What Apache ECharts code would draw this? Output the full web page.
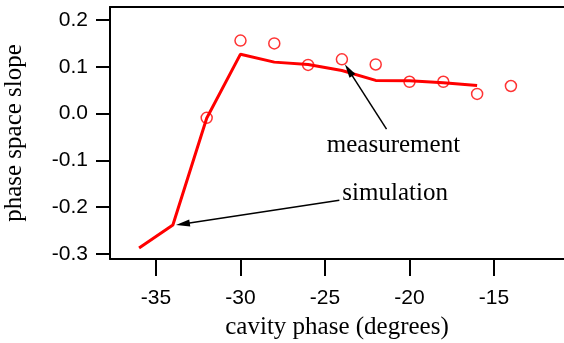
<!DOCTYPE html>
<html>
<head>
<meta charset="utf-8">
<script src="https://cdn.jsdelivr.net/npm/echarts@6/dist/echarts.min.js"></script>
<style>
  html, body { margin: 0; padding: 0; background: #fff; }
  #chart { width: 564px; height: 343px; }
  #info { position: absolute; left: 0; top: 0; font: 9px monospace; white-space: pre; visibility: hidden; }
</style>
</head>
<body>
<div id="chart"></div>
<div id="info"></div>
<script>
// cavity phase (degrees) vs phase space slope
const simPhase = [-36, -34, -32, -30, -28, -26, -24, -22, -20, -18, -16]
const simSlope = [-0.287, -0.238, -0.010, 0.127, 0.110, 0.105, 0.092, 0.071, 0.070, 0.066, 0.060]

const measPhase = [-32, -30, -28, -26, -24, -22, -20, -18, -16, -14]
const measSlope = [-0.009, 0.156, 0.150, 0.104, 0.116, 0.105, 0.068, 0.068, 0.042, 0.059]

const xTicks = [-35, -30, -25, -20, -15]
const yTicks = [-0.3, -0.2, -0.1, 0.0, 0.1, 0.2]

// annotations: [label, textAt, arrowFrom, arrowTo]
const notes = [
  ['measurement', [-20.95, -0.067], [-21.36, -0.033], [-23.60, 0.093]],
  ['simulation', [-20.85, -0.170], [-24.15, -0.185], [-33.41, -0.236]],
]

const xMin = -37.72, xMax = -10.86
const yMin = -0.3107, yMax = 0.2278

const sans = 'Liberation Sans'
const serif = 'Liberation Serif'
const red = '#ff0000'

const chart = echarts.init(document.getElementById('chart'))

const pair = (xs, ys) => xs.map((x, i) => [x, ys[i]])

chart.setOption({
  animation: false,
  grid: { left: 110, right: 0, top: 7, bottom: 84, outerBoundsMode: 'none' },
  xAxis: [
    {
      type: 'value',
      min: xMin,
      max: xMax,
      name: 'cavity phase (degrees)',
      nameLocation: 'middle',
      nameGap: 56,
      nameTextStyle: { fontFamily: serif, fontSize: 25, color: '#000' },
      axisLine: { onZero: false, lineStyle: { color: '#000', width: 2 } },
      axisTick: { show: true, customValues: xTicks, length: 17, lineStyle: { color: '#000', width: 2 } },
      axisLabel: { customValues: xTicks, margin: 29, fontFamily: sans, fontSize: 21, color: '#000' },
      splitLine: { show: false },
    },
    {
      type: 'value',
      position: 'top',
      min: xMin,
      max: xMax,
      axisLine: { show: true, onZero: false, lineStyle: { color: '#000', width: 2 } },
      axisTick: { show: false },
      axisLabel: { show: false },
      splitLine: { show: false },
    },
  ],
  yAxis: {
    type: 'value',
    min: yMin,
    max: yMax,
    name: 'phase space slope',
    nameLocation: 'middle',
    nameGap: 83,
    nameTextStyle: { fontFamily: serif, fontSize: 25, color: '#000' },
    axisLine: { show: true, onZero: false, lineStyle: { color: '#000', width: 2 } },
    axisTick: { show: true, customValues: yTicks, length: 14, lineStyle: { color: '#000', width: 2 } },
    axisLabel: {
      customValues: yTicks,
      margin: 22,
      fontFamily: sans,
      fontSize: 21,
      color: '#000',
      formatter: (v) => v.toFixed(1),
    },
    splitLine: { show: false },
  },
  series: [
    {
      name: 'simulation',
      type: 'line',
      data: pair(simPhase, simSlope),
      showSymbol: false,
      lineStyle: { color: red, width: 3 },
      z: 3,
    },
    {
      name: 'measurement',
      type: 'scatter',
      data: pair(measPhase, measSlope),
      symbol: 'circle',
      symbolSize: 11,
      itemStyle: { color: 'rgba(0,0,0,0)', borderColor: red, borderWidth: 1.5 },
      z: 4,
      markLine: {
        silent: true,
        animation: false,
        symbol: ['none', 'triangle'],
        symbolSize: [7, 14],
        label: { show: false },
        lineStyle: { color: '#000', width: 1.5, type: 'solid' },
        data: notes.map((n) => [{ coord: n[2] }, { coord: n[3] }]),
      },
      markPoint: {
        silent: true,
        animation: false,
        symbol: 'circle',
        symbolSize: 0,
        label: {
          show: true,
          position: 'inside',
          fontFamily: serif,
          fontSize: 25,
          color: '#000',
          formatter: (p) => p.name,
        },
        data: notes.map((n) => ({ name: n[0], coord: n[1] })),
      },
    },
  ],
})

// force a full repaint so the axis ticks are on the canvas before the snapshot
const zr = chart.getZr()
const lines = []
zr.storage.getDisplayList(true).forEach((el) => {
  if (el.shape && 'x1' in el.shape) lines.push(JSON.stringify(el.shape))
})
document.getElementById('info').textContent = lines.length + '\n' + lines.join('\n')
zr.refreshImmediately()
</script>
</body>
</html>
